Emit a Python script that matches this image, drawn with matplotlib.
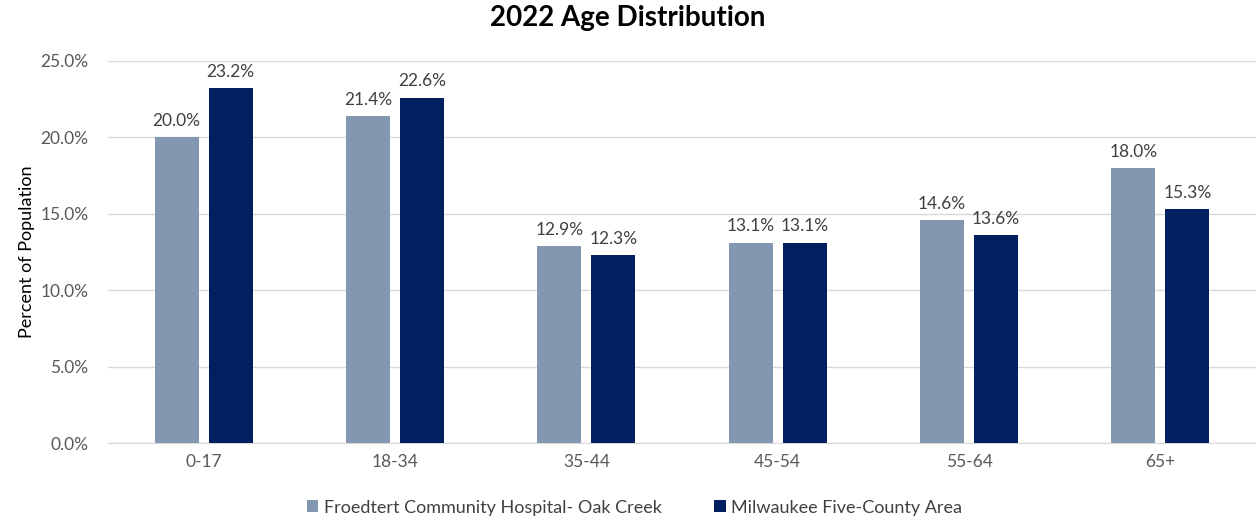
import matplotlib.pyplot as plt
import numpy as np
from matplotlib.ticker import FuncFormatter

age_groups = ["0-17", "18-34", "35-44", "45-54", "55-64", "65+"]
oak_creek = [20.0, 21.4, 12.9, 13.1, 14.6, 18.0]
milwaukee = [23.2, 22.6, 12.3, 13.1, 13.6, 15.3]
series_names = ["Froedtert Community Hospital- Oak Creek", "Milwaukee Five-County Area"]

plt.rcParams['font.family'] = ['Lato', 'DejaVu Sans']
TEXT = "#595959"

fig = plt.figure(figsize=(12.56, 5.19), dpi=100)
ax = fig.add_axes([0.086, 0.1464, 0.914, 0.7361])

x = np.arange(len(age_groups))
w = 0.23
off = 0.141
b1 = ax.bar(x - off, oak_creek, w, color="#8497B0", label=series_names[0], zorder=3)
b2 = ax.bar(x + off, milwaukee, w, color="#002060", label=series_names[1], zorder=3)

for bars in (b1, b2):
    for rect in bars:
        h = rect.get_height()
        ax.annotate(f"{h:.1f}%", (rect.get_x() + rect.get_width() / 2, h),
                    xytext=(0, 6), textcoords="offset points",
                    ha="center", va="bottom", fontsize=12.5, color="#404040")

ax.set_xlim(-0.5, len(age_groups) - 0.5)
ax.set_ylim(0, 25)
ax.set_yticks(np.arange(0, 26, 5))
ax.yaxis.set_major_formatter(FuncFormatter(lambda v, p: f"{v:.1f}%"))
ax.set_xticks(x)
ax.set_xticklabels(age_groups)
ax.tick_params(axis="both", length=0, labelsize=12.5, colors=TEXT)
ax.tick_params(axis="x", pad=8)
ax.tick_params(axis="y", pad=14)
ax.grid(axis="y", color="#D9D9D9", linewidth=1, zorder=0)
for s in ("top", "right", "left"):
    ax.spines[s].set_visible(False)
ax.spines["bottom"].set_color("#D9D9D9")

ax.set_ylabel("Percent of Population", fontsize=13, color="black", labelpad=4)
fig.suptitle("2022 Age Distribution", fontsize=20, fontweight="bold", y=0.99, x=0.5)

fig.legend(loc="lower center", bbox_to_anchor=(0.505, -0.025), ncol=2, frameon=False,
           fontsize=13, handlelength=0.65, handleheight=0.65, columnspacing=2.9,
           handletextpad=0.3, labelcolor="#404040")

fig.savefig("out.png", dpi=100)
